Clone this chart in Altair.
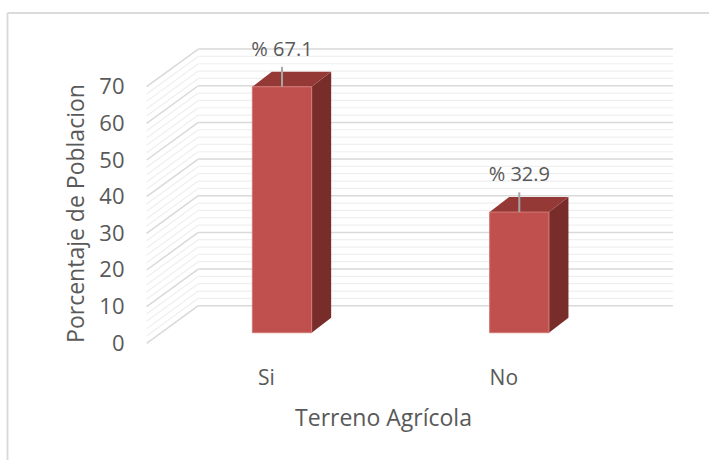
import json
import altair as alt
import pandas as pd

# ---------------- data ----------------
categories = ["Si", "No"]
values = [67.1, 32.9]
label_texts = ["% 67.1", "% 32.9"]
y_ticks = [0, 10, 20, 30, 40, 50, 60, 70]
y_max = 70
minor_step = 2
x_title = "Terreno Agrícola"
y_title = "Porcentaje de Poblacion"

# ---------------- layout ----------------
W, H = 709, 460
X0_PX = 266.0      # pixel of first category on the floor front edge
CAT_PX = 237.3     # pixels per category step
Y0_PX = 343.3      # pixel of value 0 on the floor front edge
VAL_PX = 3.6657    # pixels per value unit

u_dom = [(0 - X0_PX) / CAT_PX, (W - X0_PX) / CAT_PX]
v_dom = [(Y0_PX - H) / VAL_PX, Y0_PX / VAL_PX]

# 3-D geometry (data units)
WALL_LEFT = -0.503
WALL_RIGHT_BACK = 1.715
DEPTH_U = 0.2175
DEPTH_V = 10.26
BAR_HALF = 0.125
BAR_SHIFT_U = 0.0674
BAR_SHIFT_V = 2.89
BAR_DEPTH_U = 0.0822
BAR_DEPTH_V = 4.09
LEADER_LEN = 5.4
LABEL_GAP = 10.1

FONT = "Open Sans"
TXT = "#595959"

# ---------------- tables ----------------
grid_rows = []
for v in range(0, y_max + 1, minor_step):
    major = v % 10 == 0
    grid_rows.append(dict(x=WALL_LEFT, y=v, x2=WALL_LEFT + DEPTH_U, y2=v + DEPTH_V, major=major))
    grid_rows.append(dict(x=WALL_LEFT + DEPTH_U, y=v + DEPTH_V, x2=WALL_RIGHT_BACK, y2=v + DEPTH_V, major=major))
grid = pd.DataFrame(grid_rows)
grid_minor = grid[~grid.major]
grid_major = grid[grid.major]

front, top, side, lab = [], [], [], []
for i, (c, val, t) in enumerate(zip(categories, values, label_texts)):
    xl = i + BAR_SHIFT_U - BAR_HALF
    xr = i + BAR_SHIFT_U + BAR_HALF
    yb = BAR_SHIFT_V
    yt = BAR_SHIFT_V + val
    front.append(dict(cat=c, x=xl, x2=xr, y=yb, y2=yt))
    top.append(dict(cat=c, y=yt, x=xl, x2=xr))
    top.append(dict(cat=c, y=yt + BAR_DEPTH_V, x=xl + BAR_DEPTH_U, x2=xr + BAR_DEPTH_U))
    side.append(dict(cat=c, x=xr, y=yb, y2=yt))
    side.append(dict(cat=c, x=xr + BAR_DEPTH_U, y=yb + BAR_DEPTH_V, y2=yt + BAR_DEPTH_V))
    lab.append(dict(cat=c, x=i + BAR_SHIFT_U, y=yt, y2=yt + LEADER_LEN, ly=yt + LABEL_GAP, text=t))
front = pd.DataFrame(front)
top = pd.DataFrame(top)
side = pd.DataFrame(side)
lab = pd.DataFrame(lab)

xs = alt.Scale(domain=u_dom, nice=False, zero=False)
ys = alt.Scale(domain=v_dom, nice=False, zero=False)

x_axis = alt.Axis(
    values=list(range(len(categories))),
    labelExpr=json.dumps(categories) + "[datum.value]",
    domain=False, ticks=False, tickSize=0, grid=False,
    offset=-(H - 368), labelPadding=10, labelBaseline="middle",
    labelFont=FONT, labelFontSize=21, labelColor=TXT,
    title=x_title, titleFont=FONT, titleFontSize=23, titleFontWeight="normal",
    titleColor=TXT, titleX=383, titleY=50, titleBaseline="middle",
    titleAlign="center",
)
y_axis = alt.Axis(
    values=y_ticks, domain=False, ticks=False, tickSize=0, grid=False,
    offset=-124, labelPadding=0, labelAlign="right", labelBaseline="middle",
    labelFont=FONT, labelFontSize=22, labelColor=TXT,
    title=y_title, titleFont=FONT, titleFontSize=23, titleFontWeight="normal",
    titleColor=TXT, titleX=-48, titleY=213, titleAngle=270, titleBaseline="middle",
    titleAlign="center",
)


def X(field):
    return alt.X(field, type="quantitative", scale=xs, axis=x_axis)


def Y(field):
    return alt.Y(field, type="quantitative", scale=ys, axis=y_axis)


minor_layer = alt.Chart(grid_minor).mark_rule(color="#efefef", strokeWidth=1.2).encode(
    x=X("x"), y=Y("y"), x2="x2:Q", y2="y2:Q",
)
major_layer = alt.Chart(grid_major).mark_rule(color="#d9d9d9", strokeWidth=1.5).encode(
    x=X("x"), y=Y("y"), x2="x2:Q", y2="y2:Q",
)
side_layer = alt.Chart(side).mark_area(orient="vertical", color="#792D2B").encode(
    x=X("x"), y=Y("y"), y2="y2:Q", detail="cat:N",
)
top_layer = alt.Chart(top).mark_area(orient="horizontal", color="#953937").encode(
    y=Y("y"), x=X("x"), x2="x2:Q", detail="cat:N",
)
front_layer = alt.Chart(front).mark_rect(color="#C0504D", stroke="#D27A77", strokeWidth=1).encode(
    x=X("x"), x2="x2:Q", y=Y("y"), y2="y2:Q",
)
leader_layer = alt.Chart(lab).mark_rule(color="#a6a6a6", strokeWidth=2).encode(
    x=X("x"), y=Y("y"), y2="y2:Q",
)
text_layer = alt.Chart(lab).mark_text(
    font=FONT, fontSize=20, color=TXT, baseline="middle", align="center"
).encode(
    x=X("x"), y=Y("ly"), text="text:N",
)

# chart frame
frame_top = alt.Chart(lab).mark_rule(color="#d9d9d9", strokeWidth=1.5).encode(
    x=alt.value(7.5), x2=alt.value(W), y=alt.value(13), y2=alt.value(13)
)
frame_left = alt.Chart(lab).mark_rule(color="#d9d9d9", strokeWidth=1.5).encode(
    x=alt.value(7.5), x2=alt.value(7.5), y=alt.value(13), y2=alt.value(H)
)

chart = alt.layer(
    minor_layer, major_layer, side_layer, top_layer, front_layer,
    leader_layer, text_layer, frame_top, frame_left,
).properties(
    width=W, height=H, autosize=alt.AutoSizeParams(type="none"), padding=0,
    background="white",
).configure_view(stroke=None)

chart.save("out.html", embed_options={"renderer": "svg", "actions": False})
